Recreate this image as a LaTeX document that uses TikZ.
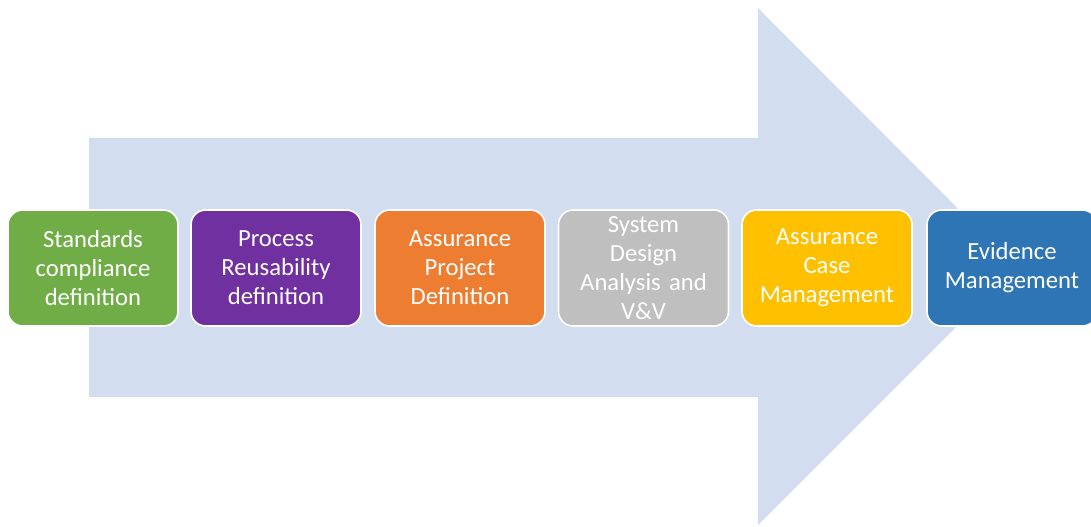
\documentclass[tikz,border=0pt]{standalone}
\usepackage{fontspec}
\setmainfont{Carlito}
\definecolor{arrowfill}{HTML}{D2DDEF}
\definecolor{cgreen}{HTML}{70AD47}
\definecolor{cpurple}{HTML}{7030A0}
\definecolor{corange}{HTML}{ED7D31}
\definecolor{cgray}{HTML}{BFBFBF}
\definecolor{cgold}{HTML}{FFC000}
\definecolor{cblue}{HTML}{2E75B6}
\begin{document}
\begin{tikzpicture}[x=0.75pt,y=-0.75pt,
  stepbox/.style={rectangle, rounded corners=11pt, draw=white, line width=1.2pt,
    minimum width=127.5pt, minimum height=87pt, inner xsep=4pt, inner ysep=0pt,
    text width=118pt, align=center, text=white,
    font=\fontsize{18.5pt}{21.8pt}\selectfont}]
\useasboundingbox (0,0) rectangle (1091,527);
\begin{scope}
\clip (0,0) rectangle (1091,527);
\fill[arrowfill] (89,138) -- (758,138) -- (758,8) -- (1016,267) -- (758,525) -- (758,397) -- (89,397) -- cycle;
\node[stepbox, fill=cgreen]  (s1) at (93,268)   {Standards\\compliance\\definition};
\node[stepbox, fill=cpurple] (s2) at (276,268)  {Process\\Reusability\\definition};
\node[stepbox, fill=corange] (s3) at (460,268)  {Assurance\\Project\\Definition};
\node[stepbox, fill=cgray]   (s4) at (643.5,268) {System\\Design\\Analysis and\\V\&V};
\node[stepbox, fill=cgold]   (s5) at (827,268)  {Assurance\\Case\\Management};
\node[stepbox, fill=cblue]   (s6) at (1012,268) {Evidence\\Management};
\end{scope}
\end{tikzpicture}
\end{document}
